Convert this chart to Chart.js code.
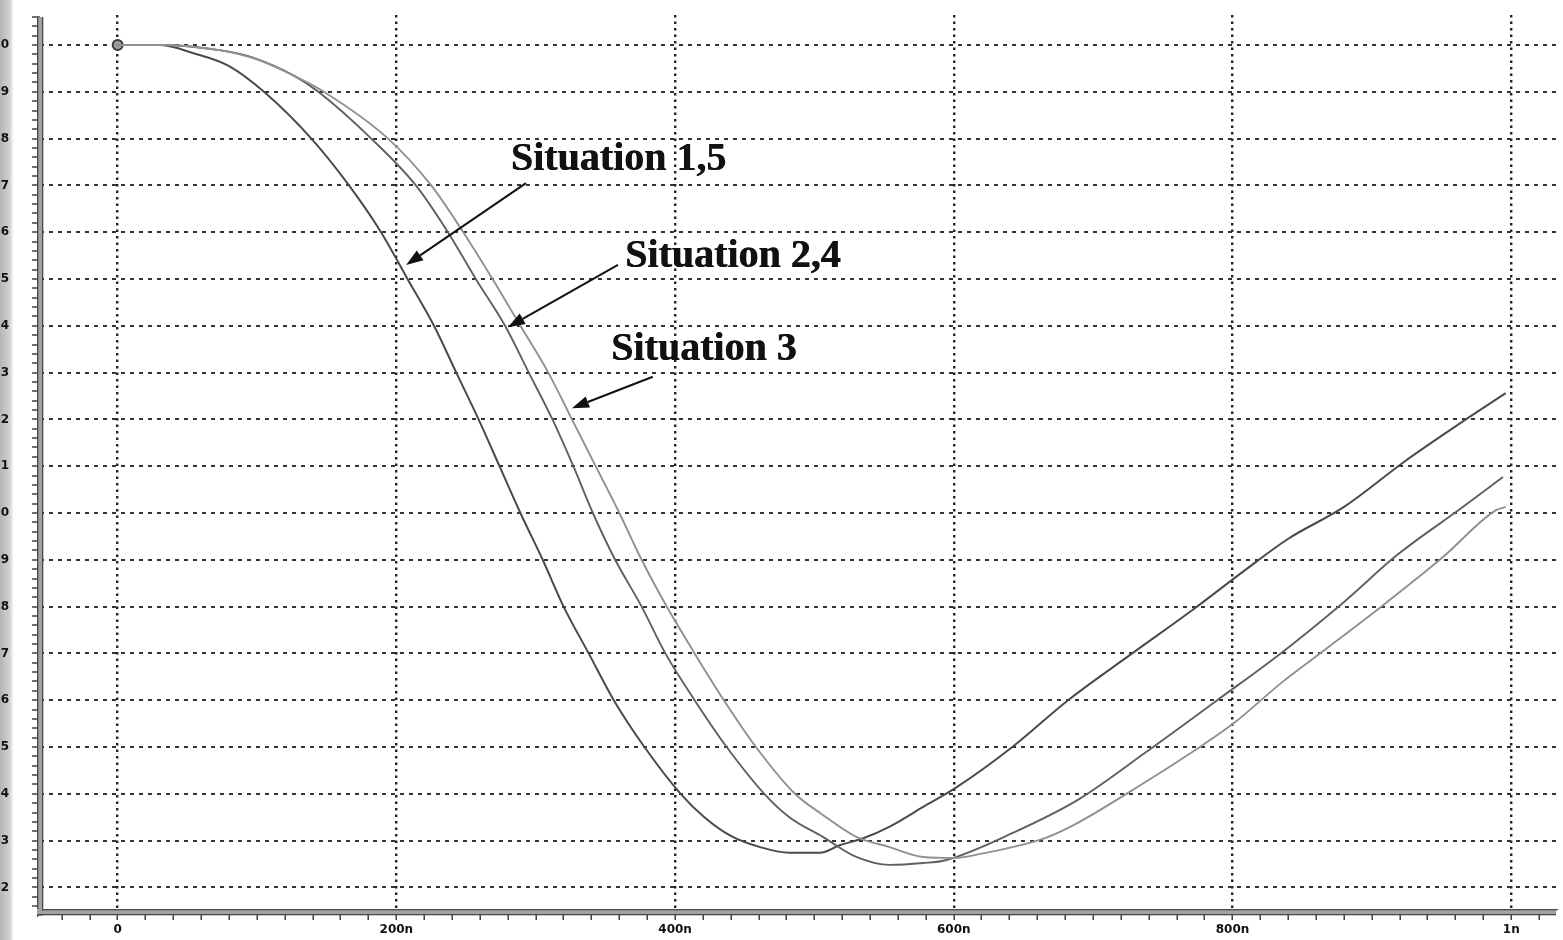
<!DOCTYPE html>
<html><head><meta charset="utf-8">
<script src="https://cdn.jsdelivr.net/npm/chart.js@4.4.1/dist/chart.umd.min.js"></script>
<style>
html,body{margin:0;padding:0;}
body{width:1563px;height:940px;overflow:hidden;background:#fff linear-gradient(to right,#b4b4b4 0px,#c4c4c4 5px,#d2d2d2 10px,#ececec 12px,#ffffff 14px) no-repeat;background-size:16px 940px;}
#wrap{position:absolute;left:0;top:0;width:1563px;height:940px;}
</style></head><body>
<div id="wrap"><canvas id="c" width="1563" height="940"></canvas></div>
<script>
// ---- data (time in ns, voltage in V) ----
const tA = [0,30,55,80,105,139,166,189,208,227,243,259,274,289,305,320,338,356,378,404,421,440,461,482,504,518,535,554,578,601,642,682,728,770,809,840,880,923,960,996];
const vA = [2.0,2.0,1.982,1.955,1.9,1.8,1.7,1.6,1.5,1.4,1.3,1.2,1.1,1.0,0.9,0.8,0.7,0.6,0.5,0.4,0.35,0.31,0.286,0.274,0.274,0.29,0.305,0.33,0.372,0.412,0.5,0.6,0.7,0.79,0.878,0.945,1.013,1.109,1.185,1.256];

const tB = [0,30,73,96,128,144,182,214,237,257,278,295,312,327,341,357,376,393,414,437,464,482,506,530,554,578,594,642,689,737,789,835,880,918,964,994];
const vB = [2.0,2.0,1.989,1.974,1.932,1.9,1.8,1.7,1.6,1.5,1.4,1.3,1.2,1.1,1.0,0.9,0.8,0.7,0.6,0.5,0.4,0.35,0.308,0.265,0.248,0.252,0.258,0.316,0.387,0.487,0.6,0.701,0.81,0.91,1.01,1.077];

const tC = [0,30,73,101,130,148,194,225,248,269,289,309,326,343,360,376,394,414,435,458,486,505,530,554,578,601,620,642,666,689,725,773,801,835,866,911,951,989,996];
const vC = [2.0,2.0,1.989,1.968,1.929,1.9,1.8,1.7,1.6,1.5,1.4,1.3,1.2,1.1,1.0,0.9,0.8,0.7,0.6,0.5,0.4,0.357,0.308,0.286,0.265,0.263,0.272,0.286,0.306,0.338,0.402,0.493,0.551,0.637,0.707,0.81,0.906,1.006,1.013];

// ---- axis ticks ----
const xMajor = [0,200,400,600,800,1000];
const xLabels = ['0','200n','400n','600n','800n','1n'];
const yMajor = [2.0,1.9,1.8,1.7,1.6,1.5,1.4,1.3,1.2,1.1,1.0,0.9,0.8,0.7,0.6,0.5,0.4,0.3,0.2];
const yLabels = ['2.0','1.9','1.8','1.7','1.6','1.5','1.4','1.3','1.2','1.1','1.0','0.9','0.8','0.7','0.6','0.5','0.4','0.3','0.2'];

// ---- annotations (data coordinates) ----
const annoTexts = [
  {text:'Situation 1,5', t:282, v:1.733},
  {text:'Situation 2,4', t:364, v:1.526},
  {text:'Situation 3',   t:354, v:1.327}
];
const annoArrows = [
  {t1:293, v1:1.705, t2:207, v2:1.530},
  {t1:359, v1:1.530, t2:280, v2:1.397},
  {t1:384, v1:1.291, t2:326, v2:1.224}
];

const pts = (t,v)=>t.map((x,i)=>({x:x, y:v[i]}));
const near = (a,b)=>Math.abs(a-b)<1e-6;
const majorIdxX = v=>xMajor.findIndex(m=>near(m,v));
const majorIdxY = v=>yMajor.findIndex(m=>near(m,v));

const axisPlugin = {
  id:'axisBands',
  afterDatasetsDraw(chart){
    const {ctx, chartArea:a} = chart;
    ctx.save();
    ctx.fillStyle='#a2a2a2';
    ctx.fillRect(a.left-3, a.top+2, 6, a.bottom-a.top+2);
    ctx.fillStyle='#4a4a4a';
    ctx.fillRect(a.left-3, a.top+2, 1.3, a.bottom-a.top+3);
    ctx.fillRect(a.left+2, a.top+2, 1.3, a.bottom-a.top-2);
    ctx.fillStyle='#a2a2a2';
    ctx.fillRect(a.left-3, a.bottom-3, a.right-a.left+3, 6);
    ctx.fillStyle='#4a4a4a';
    ctx.fillRect(a.left+2, a.bottom-3, a.right-a.left, 1.3);
    ctx.fillRect(a.left-3, a.bottom+2, a.right-a.left+3, 1.3);
    ctx.restore();
  }
};

const annoPlugin = {
  id:'anno',
  afterDraw(chart){
    const {ctx, scales:{x,y}} = chart;
    ctx.save();
    ctx.strokeStyle='#111'; ctx.fillStyle='#111'; ctx.lineWidth=2;
    annoArrows.forEach(a=>{
      const x1=x.getPixelForValue(a.t1), y1=y.getPixelForValue(a.v1);
      const x2=x.getPixelForValue(a.t2), y2=y.getPixelForValue(a.v2);
      const ang=Math.atan2(y2-y1,x2-x1), L=17, W=6;
      const bx=x2-L*Math.cos(ang), by=y2-L*Math.sin(ang);
      ctx.beginPath(); ctx.moveTo(x1,y1); ctx.lineTo(bx,by); ctx.stroke();
      ctx.beginPath();
      ctx.moveTo(x2,y2);
      ctx.lineTo(bx+W*Math.sin(ang), by-W*Math.cos(ang));
      ctx.lineTo(bx-W*Math.sin(ang), by+W*Math.cos(ang));
      ctx.closePath(); ctx.fill();
    });
    ctx.font='bold 40px "Liberation Serif", "DejaVu Serif", serif';
    ctx.textBaseline='alphabetic'; ctx.textAlign='left';
    annoTexts.forEach(s=>{
      const px=x.getPixelForValue(s.t), py=y.getPixelForValue(s.v);
      ctx.fillText(s.text, px, py);
      ctx.fillText(s.text, px+0.6, py);
    });
    ctx.restore();
  }
};

const ds = (label, data, color, w)=>({
  label, data, borderColor:color, borderWidth:w, backgroundColor:color,
  cubicInterpolationMode:'monotone', fill:false,
  pointRadius:0, pointHoverRadius:0
});

const dA = ds('Situation 1,5', pts(tA,vA), '#4a4a4a', 2);
dA.pointRadius = c=>c.dataIndex===0?5:0;
dA.pointBackgroundColor='#9c9c9c';
dA.pointBorderColor='#3a3a3a';
dA.pointBorderWidth=2;
const dB = ds('Situation 2,4', pts(tB,vB), '#606060', 1.9);
const dC = ds('Situation 3', pts(tC,vC), '#909090', 1.9);

new Chart(document.getElementById('c'), {
  type:'line',
  data:{datasets:[dC,dB,dA]},
  options:{
    responsive:false, animation:false,
    layout:{padding:{top:15,left:0,right:0,bottom:0}},
    plugins:{legend:{display:false}, tooltip:{enabled:false}},
    scales:{
      x:{
        type:'linear', min:-55.714, max:1032.1,
        afterFit:s=>{s.height=28; s.paddingLeft=0; s.paddingRight=0;},
        afterBuildTicks:s=>{ const t=[]; for(let v=-40; v<=1020; v+=20) t.push({value:v}); s.ticks=t; },
        ticks:{autoSkip:false, maxRotation:0, padding:3, color:'#111',
          font:{family:'"DejaVu Sans", sans-serif', size:12, weight:'bold'},
          callback:v=>{const i=majorIdxX(v); return i>=0?xLabels[i]:'';}},
        grid:{
          color:c=>(c.tick && majorIdxX(c.tick.value)>=0)?'#222':'rgba(0,0,0,0)',
          lineWidth:2.4, tickLength:8,
          tickColor:'#333', tickWidth:1.4, tickBorderDash:[]
        },
        border:{display:false, dash:[2.5,4]}
      },
      y:{
        type:'linear', min:0.1474, max:2.0641,
        afterFit:s=>{s.width=40; s.paddingTop=0; s.paddingBottom=0;},
        afterBuildTicks:s=>{ const t=[]; for(let k=8; k<=103; k++) t.push({value:k/50}); s.ticks=t; },
        ticks:{autoSkip:false, padding:23, color:'#111',
          font:{family:'"DejaVu Sans", sans-serif', size:12, weight:'bold'},
          callback:v=>{const i=majorIdxY(v); return i>=0?yLabels[i]:'';}},
        grid:{
          color:c=>(c.tick && majorIdxY(c.tick.value)>=0)?'#333':'rgba(0,0,0,0)',
          lineWidth:2, tickLength:8,
          tickColor:'#333', tickWidth:1.4, tickBorderDash:[]
        },
        border:{display:false, dash:[4,5]}
      }
    }
  },
  plugins:[axisPlugin, annoPlugin]
});
</script>
</body></html>
